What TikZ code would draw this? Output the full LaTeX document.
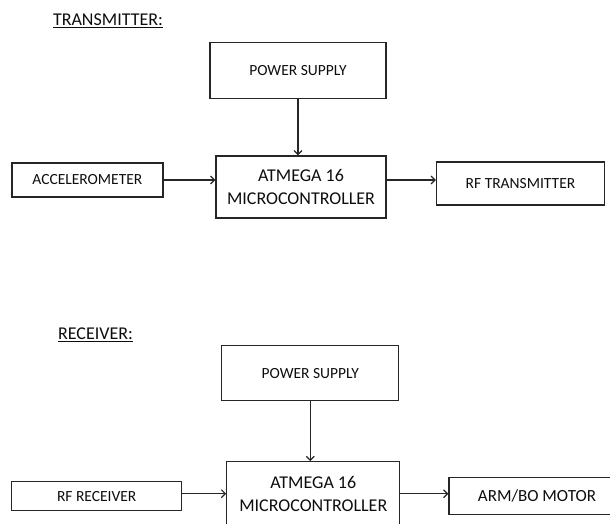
\documentclass[tikz,border=0pt]{standalone}
\usepackage{fontspec}
\setmainfont{Carlito}
\usetikzlibrary{positioning, calc}
\usetikzlibrary{arrows.meta}

\begin{document}
\begin{tikzpicture}[x=1pt,y=-1pt,->,>={Straight Barb[length=4pt,width=8pt]},draw=black!85,line width=1.2pt]
	\def \txrow{180}
	\def \rxrow{493.7}
	\tikzstyle{blk}=[rectangle,draw=black!85,line width=1.2pt,inner sep=0pt,align=center,text=black!95,font=\fontsize{15.5}{18}\selectfont]
	\tikzstyle{mcu}=[blk,font=\fontsize{18}{23}\selectfont]
	\tikzstyle{title}=[inner sep=0pt,text=black!95,font=\fontsize{18}{20}\selectfont]
	\useasboundingbox (0,0) rectangle (610,523);
	\clip (0,0) rectangle (610,523);

	% transmitter
	\node[title] 	(txtitle)	at (108,21)	{\underline{TRANSMITTER:}};
	\node[blk,minimum width=176pt,minimum height=56pt] 	(psT)	at (298,70.7)	{POWER SUPPLY};
	\node[mcu,minimum width=170pt,minimum height=62pt] 	(mcuT)	at (301,187)	{ATMEGA 16\\MICROCONTROLLER};
	\node[blk,minimum width=151pt,minimum height=34pt] 	(accT)	at (87.4,\txrow)	{ACCELEROMETER};
	\node[blk,minimum width=168pt,minimum height=43pt] 	(rfT)	at (520.5,183.5)	{RF TRANSMITTER};

	% receiver
	\node[title] 	(rxtitle)	at (95.5,335)	{\underline{RECEIVER:}};
	\node[blk,minimum width=177pt,minimum height=55pt] 	(psR)	at (310.3,373.3)	{POWER SUPPLY};
	\node[mcu,minimum width=173pt,minimum height=64pt] 	(mcuR)	at (313.3,\rxrow)	{ATMEGA 16\\MICROCONTROLLER};
	\node[blk,minimum width=170pt,minimum height=29pt] 	(rfR)	at (96.7,496.3)	{RF RECEIVER};
	\node[blk,minimum width=176pt,minimum height=37pt,font=\fontsize{17}{20}\selectfont] 	(armR)	at (537,496.3)	{ARM/BO MOTOR};

	\path
		(psT.south)	edge	(psT.south |- mcuT.north)
		(accT.east)	edge	(accT.east -| mcuT.west)
		(mcuT.east |- accT.east)	edge	(rfT.west |- accT.east)

		(psR.south)	edge	(psR.south |- mcuR.north)
		(rfR.east |- mcuR.west)	edge	(mcuR.west)
		(mcuR.east)	edge	(armR.west |- mcuR.east);
\end{tikzpicture}
\end{document}
